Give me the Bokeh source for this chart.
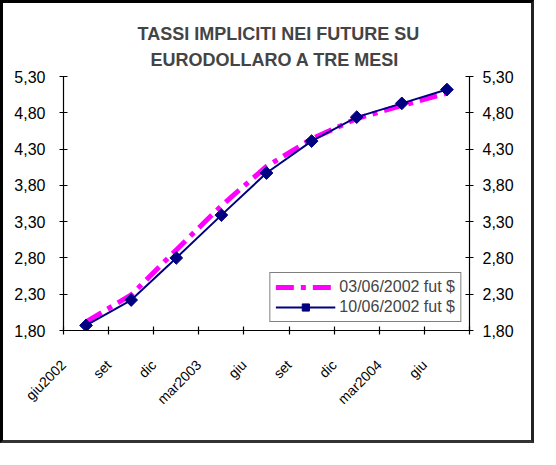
import math
from bokeh.plotting import figure
from bokeh.models import (LinearAxis, FixedTicker, CustomJSTickFormatter, Range1d,
                          Legend, LegendItem, Title)
from bokeh.embed import file_html
from bokeh.resources import INLINE

# ---- data ----
categories = ["giu2002", "set", "dic", "mar2003", "giu", "set", "dic", "mar2004", "giu"]
fut_0306 = [1.92, 2.29, 2.91, 3.52, 4.06, 4.44, 4.72, 4.90, 5.07]
fut_1006 = [1.87, 2.22, 2.80, 3.39, 3.97, 4.41, 4.74, 4.93, 5.12]
y_ticks = [1.80, 2.30, 2.80, 3.30, 3.80, 4.30, 4.80, 5.30]
series_names = ["03/06/2002 fut $", "10/06/2002 fut $"]
title_lines = ["TASSI IMPLICITI NEI FUTURE SU", "EURODOLLARO A TRE MESI"]

FONT = "Liberation Sans"
MAGENTA = "#FF00FF"
NAVY = "#000080"

xs = list(range(len(categories)))
x_bounds = [i - 0.5 for i in range(len(categories) + 1)]

p = figure(width=534, height=443, output_backend="svg", toolbar_location=None,
           x_range=Range1d(x_bounds[0], x_bounds[-1]),
           y_range=Range1d(y_ticks[0], y_ticks[-1]),
           min_border_left=60, min_border_right=68,
           min_border_top=73, min_border_bottom=116,
           background_fill_color="white", border_fill_color="white")
p.outline_line_color = None
p.grid.visible = False
p.styles = {"border-left": "3px solid black", "border-top": "3px solid black",
            "border-right": "3px solid #222", "border-bottom": "3px solid #333"}

# titles: p.title is the outer line, the added Title is nearest the frame
p.title.text = title_lines[0]
p.title.align = "left"
p.title.offset = 74
p.title.text_font = FONT
p.title.text_font_size = "18px"
p.title.text_font_style = "bold"
p.title.standoff = -4
p.add_layout(Title(text=title_lines[1], align="left", offset=87, text_font=FONT,
                   text_font_size="18px", text_font_style="bold",
                   standoff=13), "above")

# series
l1 = p.line(xs, fut_0306, line_color=MAGENTA, line_width=5, line_dash="18 7 5 7")
l2 = p.line(xs, fut_1006, line_color=NAVY, line_width=2)
s2 = p.scatter(xs, fut_1006, marker="square", angle=math.pi / 4, size=9,
               fill_color=NAVY, line_color=NAVY)

# axes
yfmt = CustomJSTickFormatter(code="return tick.toFixed(2).replace('.', ',');")
xfmt = CustomJSTickFormatter(args=dict(labels=categories),
                             code="const i = Math.round(tick + 0.5); return (i >= 0 && i < labels.length) ? labels[i] : '';")

def style_axis(ax, size):
    ax.axis_line_color = "black"
    ax.axis_line_width = 1.2
    ax.major_tick_line_color = "black"
    ax.major_tick_line_width = 1.2
    ax.major_tick_in = 4
    ax.major_tick_out = 4
    ax.minor_tick_line_color = None
    ax.major_label_text_font = FONT
    ax.major_label_text_font_size = size
    ax.major_label_text_color = "black"

yl = p.yaxis[0]
style_axis(yl, "16px")
yl.ticker = FixedTicker(ticks=y_ticks)
yl.formatter = yfmt
yl.major_label_standoff = 14

yr = LinearAxis(ticker=FixedTicker(ticks=y_ticks), formatter=yfmt)
style_axis(yr, "16px")
yr.major_label_standoff = 9
p.add_layout(yr, "right")

xa = p.xaxis[0]
style_axis(xa, "14px")
xa.ticker = FixedTicker(ticks=x_bounds)
xa.formatter = xfmt
xa.major_label_orientation = math.pi / 4
xa.major_label_standoff = 28

# legend inside the empty lower-right part of the plot area
legend = Legend(items=[LegendItem(label=series_names[0], renderers=[l1]),
                       LegendItem(label=series_names[1], renderers=[l2, s2])],
                orientation="vertical", location="bottom_right",
                padding=5, spacing=2, margin=8,
                glyph_width=60, glyph_height=18, label_standoff=4,
                label_text_font=FONT, label_text_font_size="16px",
                border_line_color="black", border_line_width=1.5,
                background_fill_color="white", background_fill_alpha=1)
p.add_layout(legend, "center")

open("out.html", "w").write(file_html(p, INLINE))
